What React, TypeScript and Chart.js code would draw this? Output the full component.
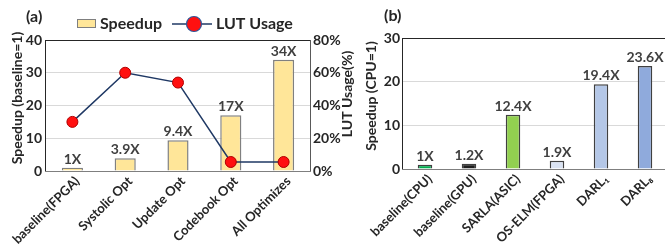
import React, { useEffect, useRef } from 'react';
import { Chart, registerables } from 'chart.js';

Chart.register(...registerables);

// ---------- data (a) ----------
const catsA = ['baseline(FPGA)', 'Systolic Opt', 'Update Opt', 'Codebook Opt', 'All Optimizes'];
const speedupA = [1, 3.9, 9.4, 17, 34];
const speedupLabelsA = ['1X', '3.9X', '9.4X', '17X', '34X'];
const lutUsageA = [30, 60, 54, 5.5, 5.5];

// ---------- data (b) ----------
const catsB = ['baseline(CPU)', 'baseline(GPU)', 'SARLA(ASIC)', 'OS-ELM(FPGA)', 'DARL₁', 'DARL₈'];
const speedupB = [1, 1.2, 12.4, 1.9, 19.4, 23.6];
const speedupLabelsB = ['1X', '1.2X', '12.4X', '1.9X', '19.4X', '23.6X'];
const colorsB = ['#00b050', '#1e1e1e', '#92d050', '#dae3f3', '#b4c7e7', '#8faadc'];

const FAM = 'Lato, "Open Sans", sans-serif';
const TXT = '#262626';

function rotText(ctx: CanvasRenderingContext2D, text: string, x: number, y: number, font: string) {
  ctx.save();
  ctx.translate(x, y);
  ctx.rotate(-Math.PI / 2);
  ctx.font = font;
  ctx.fillStyle = TXT;
  ctx.textAlign = 'center';
  ctx.textBaseline = 'middle';
  ctx.fillText(text, 0, 0);
  ctx.restore();
}

function hLine(ctx: CanvasRenderingContext2D, x1: number, x2: number, y: number, color: string) {
  ctx.beginPath();
  ctx.strokeStyle = color;
  ctx.lineWidth = 1;
  const yy = Math.round(y) + 0.5;
  ctx.moveTo(x1, yy);
  ctx.lineTo(x2, yy);
  ctx.stroke();
}
function vLine(ctx: CanvasRenderingContext2D, x: number, y1: number, y2: number, color: string) {
  ctx.beginPath();
  ctx.strokeStyle = color;
  ctx.lineWidth = 1;
  const xx = Math.round(x) - 0.5;
  ctx.moveTo(xx, y1);
  ctx.lineTo(xx, y2);
  ctx.stroke();
}

function barLabels(chart: any, labels: string[]) {
  const ctx = chart.ctx as CanvasRenderingContext2D;
  const meta = chart.getDatasetMeta(0);
  ctx.save();
  ctx.font = `bold 14px ${FAM}`;
  ctx.fillStyle = '#404040';
  ctx.textAlign = 'center';
  ctx.textBaseline = 'alphabetic';
  meta.data.forEach((el: any, i: number) => {
    ctx.fillText(labels[i], el.x, el.y - 4);
  });
  ctx.restore();
}

function xLabels(chart: any, labels: string[]) {
  const ctx = chart.ctx as CanvasRenderingContext2D;
  const sx = chart.scales.x;
  const bottom = chart.chartArea.bottom;
  ctx.save();
  ctx.font = `bold 13px ${FAM}`;
  ctx.fillStyle = TXT;
  ctx.textAlign = 'right';
  ctx.textBaseline = 'middle';
  labels.forEach((lab, i) => {
    const x = sx.getPixelForValue(i);
    ctx.save();
    ctx.translate(x + 5, bottom + 8);
    ctx.rotate(-Math.PI / 4);
    ctx.fillText(lab, 0, 0);
    ctx.restore();
  });
  ctx.restore();
}

const pluginA = {
  id: 'decoA',
  afterDraw(chart: any) {
    const ctx = chart.ctx as CanvasRenderingContext2D;
    const a = chart.chartArea;
    ctx.save();
    hLine(ctx, a.left - 1, a.right, a.top, '#262626');
    vLine(ctx, a.left, a.top, a.bottom + 1, '#262626');
    vLine(ctx, a.right + 1, a.top, a.bottom + 1, '#595959');
    hLine(ctx, a.left - 1, a.right + 1, a.bottom, '#7f7f7f');
    ctx.restore();
    barLabels(chart, speedupLabelsA);
    xLabels(chart, catsA);

    ctx.save();
    // panel label
    ctx.font = `bold 16px ${FAM}`;
    ctx.fillStyle = TXT;
    ctx.textAlign = 'left';
    ctx.textBaseline = 'middle';
    ctx.fillText('(a)', 26, 17);
    // legend
    ctx.fillStyle = '#ffe699';
    ctx.fillRect(77, 19, 19, 9);
    ctx.strokeStyle = '#7f7f7f';
    ctx.lineWidth = 1;
    ctx.strokeRect(77.5, 19.5, 18, 8);
    ctx.fillStyle = TXT;
    ctx.font = `bold 16px ${FAM}`;
    ctx.fillText('Speedup', 100, 24);
    ctx.beginPath();
    ctx.strokeStyle = '#1f3864';
    ctx.lineWidth = 1.5;
    ctx.moveTo(172, 24);
    ctx.lineTo(212, 24);
    ctx.stroke();
    ctx.beginPath();
    ctx.arc(194, 24, 7.5, 0, Math.PI * 2);
    ctx.fillStyle = '#ff1010';
    ctx.fill();
    ctx.strokeStyle = '#2f5597';
    ctx.lineWidth = 1.2;
    ctx.stroke();
    ctx.fillStyle = TXT;
    ctx.fillText('LUT Usage', 216, 24);
    ctx.restore();

    rotText(ctx, 'Speedup (baseline=1)', 17, 98, `bold 14px ${FAM}`);
    rotText(ctx, 'LUT Usage(%)', 347, 94, `bold 14px ${FAM}`);
  },
};

const pluginB = {
  id: 'decoB',
  afterDraw(chart: any) {
    const ctx = chart.ctx as CanvasRenderingContext2D;
    const a = chart.chartArea;
    ctx.save();
    hLine(ctx, a.left - 1, a.right, a.top, '#262626');
    vLine(ctx, a.left, a.top, a.bottom + 1, '#262626');
    hLine(ctx, a.left - 1, a.right, a.bottom, '#7f7f7f');
    ctx.restore();
    barLabels(chart, speedupLabelsB);
    xLabels(chart, catsB);
    ctx.save();
    ctx.font = `bold 16px ${FAM}`;
    ctx.fillStyle = TXT;
    ctx.textAlign = 'left';
    ctx.textBaseline = 'middle';
    ctx.fillText('(b)', 22, 16);
    ctx.restore();
    rotText(ctx, 'Speedup (CPU=1)', 9, 96, `bold 14px ${FAM}`);
  },
};

const tickFont = { family: FAM, weight: 'bold' as const, size: 14 };

function ChartA() {
  const ref = useRef<HTMLCanvasElement>(null);
  useEffect(() => {
    const chart = new Chart(ref.current!, {
      type: 'bar',
      data: {
        labels: catsA,
        datasets: [
          {
            type: 'bar',
            label: 'Speedup',
            data: speedupA,
            backgroundColor: '#ffe699',
            borderColor: '#808080',
            borderWidth: 1.5,
            barPercentage: 0.4,
            categoryPercentage: 1,
            yAxisID: 'y',
            order: 1,
          },
          {
            type: 'line',
            label: 'LUT Usage',
            data: lutUsageA,
            borderColor: '#1f3864',
            borderWidth: 1.5,
            pointRadius: 5.5,
            pointBackgroundColor: '#ff1010',
            pointBorderColor: '#b00000',
            pointBorderWidth: 1,
            yAxisID: 'y2',
            order: 0,
          } as any,
        ],
      },
      options: {
        responsive: false,
        animation: false,
        layout: { padding: { top: 40, left: 0, right: 0, bottom: 0 } },
        plugins: { legend: { display: false }, tooltip: { enabled: false } },
        scales: {
          x: {
            grid: { display: false, drawTicks: false },
            border: { display: false },
            ticks: { display: false },
            afterFit: (s: any) => { s.height = 75; s.paddingLeft = 0; s.paddingRight = 0; },
          },
          y: {
            position: 'left',
            min: 0,
            max: 40,
            ticks: { stepSize: 10, color: TXT, font: tickFont, padding: 4 },
            grid: { color: '#d9d9d9', drawTicks: false },
            border: { display: false },
            afterFit: (s: any) => { s.width = 46; s.paddingTop = 0; s.paddingBottom = 0; },
          },
          y2: {
            position: 'right',
            min: 0,
            max: 80,
            ticks: { stepSize: 20, color: TXT, font: tickFont, padding: 3, callback: (v: any) => v + '%' },
            grid: { display: false, drawTicks: false },
            border: { display: false },
            afterFit: (s: any) => { s.width = 52; s.paddingTop = 0; s.paddingBottom = 0; },
          },
        },
      },
      plugins: [pluginA],
    });
    return () => chart.destroy();
  }, []);
  return (
    <canvas
      ref={ref}
      width={362}
      height={246}
      style={{ position: 'absolute', left: 0, top: 0, width: 362, height: 246 }}
    />
  );
}

function ChartB() {
  const ref = useRef<HTMLCanvasElement>(null);
  useEffect(() => {
    const chart = new Chart(ref.current!, {
      type: 'bar',
      data: {
        labels: catsB,
        datasets: [
          {
            label: 'Speedup',
            data: speedupB,
            backgroundColor: colorsB,
            borderColor: '#404040',
            borderWidth: 1.5,
            barPercentage: 0.33,
            categoryPercentage: 1,
          },
        ],
      },
      options: {
        responsive: false,
        animation: false,
        layout: { padding: { top: 38, left: 0, right: 0, bottom: 0 } },
        plugins: { legend: { display: false }, tooltip: { enabled: false } },
        scales: {
          x: {
            grid: { display: false, drawTicks: false },
            border: { display: false },
            ticks: { display: false },
            afterFit: (s: any) => { s.height = 77; s.paddingLeft = 0; s.paddingRight = 0; },
          },
          y: {
            min: 0,
            max: 30,
            ticks: { stepSize: 10, color: TXT, font: tickFont, padding: 3 },
            grid: { color: '#d9d9d9', drawTicks: false },
            border: { display: false },
            afterFit: (s: any) => { s.width = 41; s.paddingTop = 0; s.paddingBottom = 0; },
          },
        },
      },
      plugins: [pluginB],
    });
    return () => chart.destroy();
  }, []);
  return (
    <canvas
      ref={ref}
      width={305}
      height={246}
      style={{ position: 'absolute', left: 362, top: 0, width: 305, height: 246 }}
    />
  );
}

export default function App() {
  return (
    <div
      style={{
        position: 'absolute',
        left: 0,
        top: 0,
        width: 665,
        height: 246,
        overflow: 'hidden',
        background: '#ffffff',
      }}
    >
      <ChartA />
      <ChartB />
    </div>
  );
}
